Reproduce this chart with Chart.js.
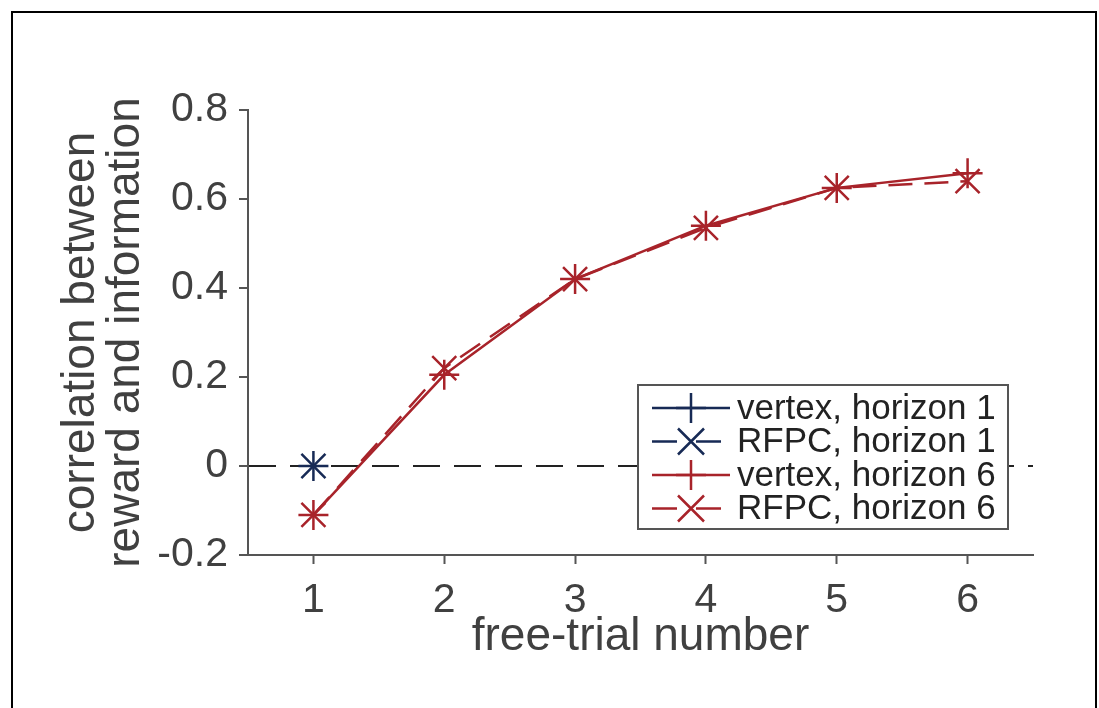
<!DOCTYPE html>
<html>
<head>
<meta charset="utf-8">
<script src="https://cdn.jsdelivr.net/npm/chart.js@4.4.1/dist/chart.umd.min.js"></script>
<style>
  html, body { margin: 0; padding: 0; background: #fff; }
  #wrap { position: relative; width: 1099px; height: 708px; overflow: hidden; }
  #frame { position: absolute; left: 11px; top: 11px; width: 1082px; height: 760px; border: 2px solid #000; pointer-events: none; }
</style>
</head>
<body>
<div id="wrap">
  <canvas id="chart"></canvas>
  <div id="frame"></div>
</div>
<script>
const trialNumbers = [1, 2, 3, 4, 5, 6]
const xTickValues = [1, 2, 3, 4, 5, 6]
const yTickValues = [-0.2, 0, 0.2, 0.4, 0.6, 0.8]

const vertexH1 = [0]
const rfpcH1 = [0]
const vertexH6 = [-0.11, 0.205, 0.42, 0.54, 0.625, 0.658]
const rfpcH6 = [-0.11, 0.22, 0.42, 0.535, 0.625, 0.64]

const seriesLabels = ["vertex, horizon 1", "RFPC, horizon 1", "vertex, horizon 6", "RFPC, horizon 6"]

const NAVY = "#172a55"
const RED = "#a8232a"
const AXIS = "#555555"
const TEXT = "#404040"
const FONT = "'Liberation Sans', Arial, Helvetica, sans-serif"

const toPoints = (values) => values.map((y, i) => ({ x: trialNumbers[i], y }))

function series(label, values, color, pointStyle, dashed) {
  return {
    label,
    data: toPoints(values),
    borderColor: color,
    backgroundColor: color,
    pointBorderColor: color,
    pointStyle,
    pointRadius: pointStyle === "cross" ? 15 : 17,
    pointBorderWidth: 2.5,
    borderWidth: 2.5,
    borderDash: dashed ? [24, 12] : [],
    fill: false,
    tension: 0,
  }
}

// legend drawn by hand so it can sit inside the plot like the original
const referenceLegend = {
  id: "referenceLegend",
  afterDraw(chart) {
    const { ctx } = chart
    const box = { left: 638, top: 385, right: 1008, bottom: 529 }

    ctx.save()
    ctx.fillStyle = "#fff"
    ctx.fillRect(box.left, box.top, box.right - box.left, box.bottom - box.top)
    ctx.strokeStyle = AXIS
    ctx.lineWidth = 2
    ctx.strokeRect(box.left, box.top, box.right - box.left, box.bottom - box.top)

    chart.data.datasets.forEach((dataset, i) => {
      const y = 408 + i * 33.5
      const cx = 691
      ctx.strokeStyle = dataset.borderColor
      ctx.lineWidth = 2.5
      ctx.setLineDash(dataset.borderDash.length ? [25, 19] : [])
      ctx.beginPath()
      ctx.moveTo(652, y)
      ctx.lineTo(730, y)
      ctx.stroke()
      ctx.setLineDash([])

      ctx.beginPath()
      if (dataset.pointStyle === "cross") {
        ctx.moveTo(cx - 15, y)
        ctx.lineTo(cx + 15, y)
        ctx.moveTo(cx, y - 15)
        ctx.lineTo(cx, y + 15)
      } else {
        ctx.moveTo(cx - 13, y - 13)
        ctx.lineTo(cx + 13, y + 13)
        ctx.moveTo(cx - 13, y + 13)
        ctx.lineTo(cx + 13, y - 13)
      }
      ctx.stroke()

      ctx.fillStyle = "#222"
      ctx.font = `35px ${FONT}`
      ctx.textBaseline = "middle"
      ctx.textAlign = "left"
      ctx.fillText(dataset.label, 737, y + 1)
    })
    ctx.restore()
  },
}

new Chart(document.getElementById("chart"), {
  type: "line",
  data: {
    datasets: [
      series(seriesLabels[0], vertexH1, NAVY, "cross", false),
      series(seriesLabels[1], rfpcH1, NAVY, "crossRot", true),
      series(seriesLabels[2], vertexH6, RED, "cross", false),
      series(seriesLabels[3], rfpcH6, RED, "crossRot", true),
    ],
  },
  options: {
    responsive: true,
    maintainAspectRatio: false,
    animation: false,
    layout: {
      autoPadding: false,
      padding: { left: 0, top: 110, right: 66, bottom: 0 },
    },
    plugins: {
      legend: { display: false },
      tooltip: { enabled: false },
    },
    scales: {
      x: {
        type: "linear",
        min: 0.5,
        max: 6.5,
        afterBuildTicks: (scale) => {
          scale.ticks = xTickValues.map((value) => ({ value }))
        },
        afterFit: (scale) => {
          scale.height = 153
        },
        grid: {
          drawOnChartArea: false,
          drawTicks: true,
          tickLength: 9,
          tickColor: AXIS,
          tickWidth: 2,
        },
        border: { color: AXIS, width: 2 },
        ticks: {
          color: TEXT,
          padding: 12,
          maxRotation: 0,
          font: { family: FONT, size: 41 },
          callback: (value) => String(value),
        },
        title: {
          display: true,
          text: "free-trial number",
          color: TEXT,
          font: { family: FONT, size: 46, lineHeight: 1.2 },
          padding: { top: 0, bottom: 43 },
        },
      },
      y: {
        min: -0.2,
        max: 0.8,
        afterBuildTicks: (scale) => {
          scale.ticks = yTickValues.map((value) => ({ value }))
        },
        afterFit: (scale) => {
          scale.width = 248
        },
        grid: {
          drawOnChartArea: true,
          color: (context) => (context.tick && context.tick.value === 0 ? "#222222" : "rgba(0,0,0,0)"),
          lineWidth: 2,
          drawTicks: true,
          tickLength: 9,
          tickColor: AXIS,
          tickWidth: 2,
        },
        border: { color: AXIS, width: 2, dash: [27, 14] },
        ticks: {
          color: TEXT,
          padding: 11,
          font: { family: FONT, size: 41 },
          callback: (value) => (value === 0 ? "0" : value.toFixed(1)),
        },
        title: {
          display: true,
          text: ["correlation between", "reward and information"],
          color: TEXT,
          font: { family: FONT, size: 46, lineHeight: 0.98 },
          padding: { top: 59, bottom: 0 },
        },
      },
    },
  },
  plugins: [referenceLegend],
})
</script>
</body>
</html>
